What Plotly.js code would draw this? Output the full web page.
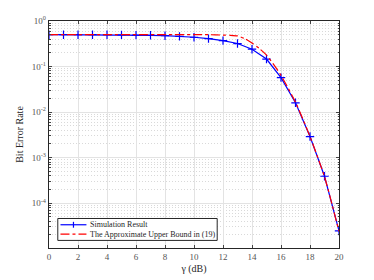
<!DOCTYPE html>
<html><head><meta charset="utf-8">
<script src="https://cdn.plot.ly/plotly-3.0.1.min.js"></script>
<style>html,body{margin:0;padding:0;background:#fff;}#chart{width:374px;height:280px;}</style>
</head><body><div id="chart"></div>
<script>
var simX = [0,1,2,3,4,5,6,7,8,9,10,11,12,13,14,15,16,17,18,19,20];
var simY = [0.5,0.5,0.5,0.5,0.5,0.497,0.49,0.485,0.475,0.46,0.44,0.41,0.37,0.32,0.24,0.146,0.057,0.016,0.0029,0.00039,0.0000245];
var bndX = [0,2,4,6,8,10,11,12,12.5,13,13.5,14,14.5,15,15.5,16,17,18,19,20];
var bndY = [0.5,0.5,0.5,0.5,0.5,0.5,0.5,0.49,0.485,0.47,0.41,0.33,0.25,0.178,0.11,0.064,0.0165,0.0029,0.00038,0.000024];
var xTicks = [0,2,4,6,8,10,12,14,16,18,20];
var yTickVals = [1,0.1,0.01,0.001,0.0001];
var yTickText = ['10<sup>0</sup>','10<sup>-1</sup>','10<sup>-2</sup>','10<sup>-3</sup>','10<sup>-4</sup>'];
var seriesNames = ['Simulation Result','The Approximate Upper Bound in (19)'];

var font = 'Liberation Serif, Times New Roman, serif';
var traces = [
  {x: simX, y: simY, name: seriesNames[0], type: 'scatter', mode: 'lines+markers',
   line: {color: '#0000ff', width: 1.2},
   marker: {symbol: 'cross-thin', size: 6, line: {color: '#0000ff', width: 1.2}, color: '#0000ff'}},
  {x: bndX, y: bndY, name: seriesNames[1], type: 'scatter', mode: 'lines',
   line: {color: '#ff0000', width: 1.2, dash: 'dashdot', shape: 'spline', smoothing: 0.6}}
];

// legend drawn manually (compact, MATLAB-like)
var lg = {x0: 0.0303, x1: 0.580, y0: 0.0334, y1: 0.130, rows: [0.1024, 0.0615], sx0: 0.0396, sx1: 0.1291, tx: 0.136};
var shapes = [
  {type: 'rect', xref: 'paper', yref: 'paper', x0: lg.x0, x1: lg.x1, y0: lg.y0, y1: lg.y1,
   fillcolor: '#ffffff', line: {color: '#262626', width: 1}, layer: 'above'},
  {type: 'line', xref: 'paper', yref: 'paper', x0: lg.sx0, x1: lg.sx1, y0: lg.rows[0], y1: lg.rows[0],
   line: {color: '#0000ff', width: 1.2}, layer: 'above'},
  {type: 'line', xref: 'paper', yref: 'paper', x0: (lg.sx0+lg.sx1)/2, x1: (lg.sx0+lg.sx1)/2,
   y0: lg.rows[0]-0.013, y1: lg.rows[0]+0.013, line: {color: '#0000ff', width: 1.2}, layer: 'above'},
  {type: 'line', xref: 'paper', yref: 'paper', x0: lg.sx0, x1: lg.sx1, y0: lg.rows[1], y1: lg.rows[1],
   line: {color: '#ff0000', width: 1.2, dash: 'dashdot'}, layer: 'above'}
];
var annotations = seriesNames.map(function (n, i) {
  return {text: n, xref: 'paper', yref: 'paper', x: lg.tx, y: lg.rows[i], xanchor: 'left', yanchor: 'middle',
    showarrow: false, font: {family: font, size: 8, color: '#262626'}};
});

var layout = {
  width: 374, height: 280,
  margin: {l: 48.5, r: 35, t: 20.7, b: 31.7},
  paper_bgcolor: '#fff', plot_bgcolor: '#fff',
  showlegend: false,
  shapes: shapes, annotations: annotations,
  xaxis: {range: [0, 20], tickvals: xTicks, ticks: 'inside', ticklen: 3,
    showline: true, linecolor: '#262626', linewidth: 1.2, mirror: 'ticks',
    showgrid: true, gridcolor: '#e3e3e3', gridwidth: 1, zeroline: false,
    tickfont: {family: font, size: 9, color: '#555555'},
    title: {text: 'γ (dB)', font: {family: font, size: 10, color: '#262626'}, standoff: 4}},
  yaxis: {type: 'log', range: [-4.985, 0], tickvals: yTickVals, ticktext: yTickText,
    ticks: 'inside', ticklen: 3,
    showline: true, linecolor: '#262626', linewidth: 1.2, mirror: 'ticks',
    showgrid: true, gridcolor: '#e3e3e3', gridwidth: 1, zeroline: false,
    minor: {dtick: 'D1', ticks: 'inside', ticklen: 1.5, showgrid: true,
      gridcolor: '#cfcfcf', griddash: '1px,2px', gridwidth: 0.8},
    tickfont: {family: font, size: 9, color: '#555555'},
    title: {text: 'Bit Error Rate', font: {family: font, size: 10, color: '#262626'}, standoff: 6}}
};
Plotly.newPlot('chart', traces, layout, {displayModeBar: false, staticPlot: true});
</script></body></html>
